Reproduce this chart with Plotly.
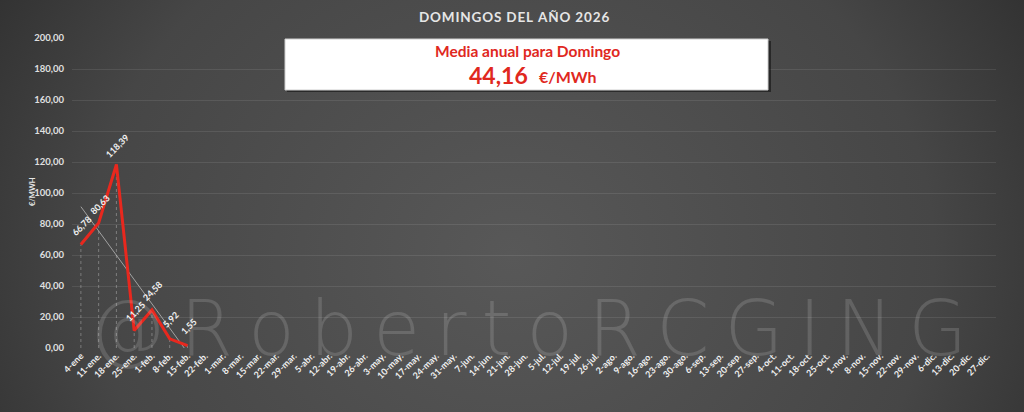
import numpy as np
import plotly.graph_objects as go

W, H = 1024, 412
ML, MR, MT, MB = 72, 28, 38, 64

categories = ["4-ene", "11-ene.", "18-ene.", "25-ene.", "1-feb.", "8-feb.", "15-feb.", "22-feb.",
              "1-mar.", "8-mar.", "15-mar.", "22-mar.", "29-mar.", "5-abr.", "12-abr.", "19-abr.",
              "26-abr.", "3-may.", "10-may.", "17-may.", "24-may.", "31-may.", "7-jun.", "14-jun.",
              "21-jun.", "28-jun.", "5-jul.", "12-jul.", "19-jul.", "26-jul.", "2-ago.", "9-ago.",
              "16-ago.", "23-ago.", "30-ago.", "6-sep.", "13-sep.", "20-sep.", "27-sep.", "4-oct.",
              "11-oct.", "18-oct.", "25-oct.", "1-nov.", "8-nov.", "15-nov.", "22-nov.", "29-nov.",
              "6-dic.", "13-dic.", "20-dic.", "27-dic."]
prices = [66.78, 80.63, 118.39, 11.25, 24.58, 5.92, 1.55]
y_ticks = [0, 20, 40, 60, 80, 100, 120, 140, 160, 180, 200]
title_text = "DOMINGOS DEL AÑO 2026"
box_line1 = "Media anual para Domingo"
mean_value = 44.16
unit = "€/MWh"
y_title = "€/MWH"
watermark = "@RobertoRCGING"

pw = W - ML - MR
ph = H - MT - MB


def px(x):
    return (x - ML) / pw


def py(y):
    return 1 - (y - MT) / ph


cat_x = categories[:len(prices)]
idx = np.arange(len(prices))
slope, intercept = np.polyfit(idx, prices, 1)
trend = intercept + slope * idx

drop_x, drop_y = [], []
for c, v in zip(cat_x, prices):
    drop_x += [c, c, None]
    drop_y += [0, v, None]

fig = go.Figure()

fig.add_trace(go.Scatter(x=categories, y=[None] * len(categories), mode="lines",
                         showlegend=False, hoverinfo="skip"))
fig.add_trace(go.Scatter(x=drop_x, y=drop_y, mode="lines",
                         line=dict(color="rgba(190,190,190,0.45)", width=1, dash="3px,3px"),
                         showlegend=False, hoverinfo="skip"))
fig.add_trace(go.Scatter(x=cat_x, y=trend, mode="lines",
                         line=dict(color="rgba(200,200,200,0.7)", width=1),
                         showlegend=False, hoverinfo="skip"))
fig.add_trace(go.Scatter(x=cat_x, y=prices, mode="lines",
                         line=dict(color="#e8281e", width=3),
                         showlegend=False))

for c, v in zip(cat_x, prices):
    fig.add_annotation(x=c, y=v, xref="x", yref="y", text=f"{v:.2f}".replace(".", ","),
                       showarrow=False, textangle=-45, xanchor="center", yanchor="middle",
                       yshift=19, xshift=1,
                       font=dict(family="Lato", size=9, color="#f2f2f2", weight="bold"))

svg = ("data:image/svg+xml;utf8,"
       "<svg xmlns='http://www.w3.org/2000/svg' width='1024' height='412'>"
       "<defs><radialGradient id='g' cx='0.5' cy='0.62' r='0.75' gradientTransform='translate(0.5 0.62) scale(1 2.2) translate(-0.5 -0.62)'>"
       "<stop offset='0' stop-color='%23585858'/>"
       "<stop offset='0.55' stop-color='%23464646'/>"
       "<stop offset='1' stop-color='%231e1e1e'/>"
       "</radialGradient></defs>"
       "<rect width='1024' height='412' fill='url(%23g)'/></svg>")

fig.add_layout_image(dict(source=svg, xref="paper", yref="paper",
                          x=px(0), y=py(0), sizex=px(W) - px(0), sizey=py(0) - py(H),
                          xanchor="left", yanchor="top", sizing="stretch", layer="below"))

# watermark
fig.add_annotation(xref="paper", yref="paper", x=px(528), y=py(328), text="\u2009".join(watermark),
                   showarrow=False, xanchor="center", yanchor="middle",
                   font=dict(family="DejaVu Sans ExtraLight, DejaVu Sans", size=76, weight=200,
                             color="rgba(255,255,255,0.14)"))

# title
fig.add_annotation(xref="paper", yref="paper", x=px(514), y=py(17), text="\u200a".join(title_text),
                   showarrow=False, xanchor="center", yanchor="middle",
                   font=dict(family="Lato", size=13.5, color="#e6e6e6", weight="bold"))

# mean box
fig.add_shape(type="rect", xref="paper", yref="paper", x0=px(287), x1=px(771), y0=py(41), y1=py(92),
              fillcolor="rgba(0,0,0,0.45)", line=dict(width=0), layer="above")
fig.add_shape(type="rect", xref="paper", yref="paper", x0=px(285), x1=px(768), y0=py(39), y1=py(90),
              fillcolor="#ffffff", line=dict(color="#cfcfcf", width=1), layer="above")
fig.add_annotation(xref="paper", yref="paper", x=px(527), y=py(51), text=box_line1,
                   showarrow=False, xanchor="center", yanchor="middle",
                   font=dict(family="Lato", size=15.5, color="#e0281e", weight="bold"))
fig.add_annotation(xref="paper", yref="paper", x=px(530), y=py(75),
                   text=f"{mean_value:.2f}".replace(".", ","),
                   showarrow=False, xanchor="right", yanchor="middle",
                   font=dict(family="Lato", size=23, color="#e0281e", weight="bold"))
fig.add_annotation(xref="paper", yref="paper", x=px(537), y=py(76), text=unit,
                   showarrow=False, xanchor="left", yanchor="middle",
                   font=dict(family="Lato", size=16, color="#e0281e", weight="bold"))

# y title
fig.add_annotation(xref="paper", yref="paper", x=px(32), y=py(192), text=y_title,
                   showarrow=False, textangle=-90, xanchor="center", yanchor="middle",
                   font=dict(family="Lato", size=7.5, color="#e6e6e6", weight="bold"))

fig.update_layout(
    width=W, height=H,
    margin=dict(l=ML, r=MR, t=MT, b=MB, pad=0),
    paper_bgcolor="#3a3a3a", plot_bgcolor="rgba(0,0,0,0)",
    separators=",.",
    showlegend=False,
    xaxis=dict(type="category", categoryorder="array", categoryarray=categories,
               range=[-0.5, len(categories) - 0.5], showgrid=False, zeroline=False,
               showline=False, ticks="", tickangle=-45,
               tickfont=dict(family="Lato", size=9, color="#f0f0f0", weight="bold")),
    yaxis=dict(range=[0, 200], tickvals=y_ticks, tickformat=".2f",
               showgrid=True, gridcolor="rgba(255,255,255,0.09)", gridwidth=1,
               zeroline=False, showline=False, ticks="", ticklabelstandoff=7,
               tickfont=dict(family="Lato", size=9.5, color="#e0e0e0", weight="bold")),
)

fig.write_html("out.html", config={"displayModeBar": False},
               post_script="document.body.style.margin='0';document.body.style.overflow='hidden';")
